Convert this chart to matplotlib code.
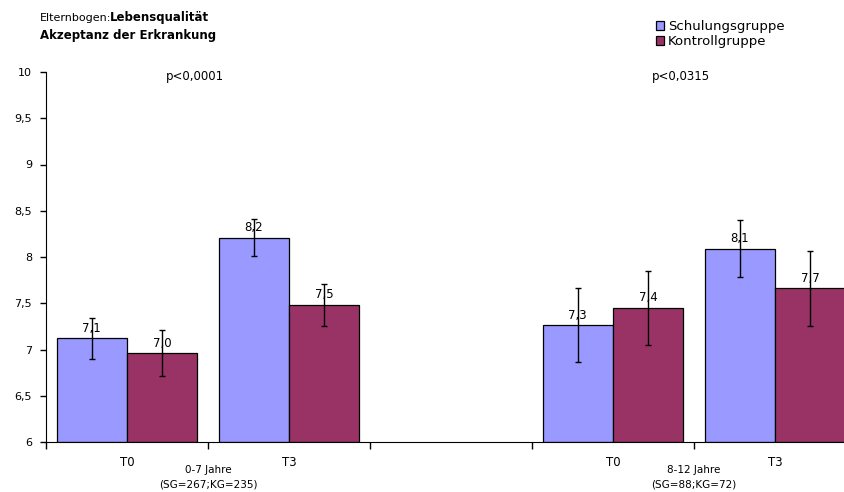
import numpy as np
import matplotlib.pyplot as plt
from matplotlib.transforms import blended_transform_factory

plt.rcParams['font.family'] = ['DejaVu Sans']

# data
positions = [0, 1, 3, 4]
tick_labels = ['T0', 'T3', 'T0', 'T3']
sg_values = [7.12, 8.21, 7.26, 8.09]
sg_err = [0.22, 0.20, 0.40, 0.31]
kg_values = [6.96, 7.48, 7.45, 7.66]
kg_err = [0.25, 0.23, 0.40, 0.41]
sg_labels = ['7,1', '8,2', '7,3', '8,1']
kg_labels = ['7,0', '7,5', '7,4', '7,7']
group_labels = ['0-7 Jahre\n(SG=267;KG=235)', '8-12 Jahre\n(SG=88;KG=72)']
group_centers = [0.5, 3.5]
p_labels = ['p<0,0001', 'p<0,0315']
p_x = [0.42, 3.42]

blue = '#9999FF'
red = '#993366'

fig = plt.figure(figsize=(8.45, 4.92), dpi=100)
ax = fig.add_axes([46/845, 50/492, 810/845, 370/492])

w = 0.434
off = 0.218
x = np.array(positions)
ax.bar(x - off, np.array(sg_values) - 6, w, bottom=6, color=blue, edgecolor='black', linewidth=0.9, label='Schulungsgruppe', zorder=2)
ax.bar(x + off, np.array(kg_values) - 6, w, bottom=6, color=red, edgecolor='black', linewidth=0.9, label='Kontrollgruppe', zorder=2)

# value labels, error bars are drawn over them like in the original
for xi, v, lab in zip(x - off, sg_values, sg_labels):
    ax.text(xi, v + 0.04, lab, ha='center', va='bottom', fontsize=8.5, zorder=3)
for xi, v, lab in zip(x + off, kg_values, kg_labels):
    ax.text(xi, v + 0.04, lab, ha='center', va='bottom', fontsize=8.5, zorder=3)

ax.errorbar(x - off, sg_values, yerr=sg_err, fmt='none', ecolor='black', elinewidth=1, capsize=2.3, capthick=1, zorder=4)
ax.errorbar(x + off, kg_values, yerr=kg_err, fmt='none', ecolor='black', elinewidth=1, capsize=2.3, capthick=1, zorder=4)

ax.set_xlim(-0.5, 4.5)
ax.set_ylim(6, 10)
ax.set_yticks(np.arange(6, 10.01, 0.5))
ax.set_yticklabels(['6', '6,5', '7', '7,5', '8', '8,5', '9', '9,5', '10'], fontsize=8)
ax.tick_params(axis='y', direction='out', length=4, width=1, pad=6)

ax.set_xticks(positions)
ax.set_xticklabels(tick_labels, fontsize=8.5)
ax.tick_params(axis='x', which='major', length=0, pad=10)
ax.set_xticks(np.arange(-0.5, 4.6, 1), minor=True)
ax.tick_params(axis='x', which='minor', direction='out', length=5, width=1)

ax.spines['top'].set_visible(False)
ax.spines['right'].set_visible(False)

tr = blended_transform_factory(ax.transData, ax.transAxes)
for gx, gl in zip(group_centers, group_labels):
    ax.text(gx, -0.062, gl, transform=tr, ha='center', va='top', fontsize=7.5, linespacing=1.55)
for px, pl in zip(p_x, p_labels):
    ax.text(px, 9.95, pl, ha='center', va='center', fontsize=8.5)

fig.text(40/845, 1 - 18/492, 'Elternbogen:', fontsize=8, va='center')
fig.text(110/845, 1 - 18/492, 'Lebensqualität', fontsize=8.5, fontweight='bold', va='center')
fig.text(40/845, 1 - 36/492, 'Akzeptanz der Erkrankung', fontsize=8.5, fontweight='bold', va='center')

fig.legend(loc='upper left', bbox_to_anchor=(656/845, 1 - 20/492), frameon=False, fontsize=9.5,
           handlelength=0.6, handleheight=0.6, handletextpad=0.3, labelspacing=0.15, borderpad=0, borderaxespad=0)

fig.savefig('out.png', dpi=100)
